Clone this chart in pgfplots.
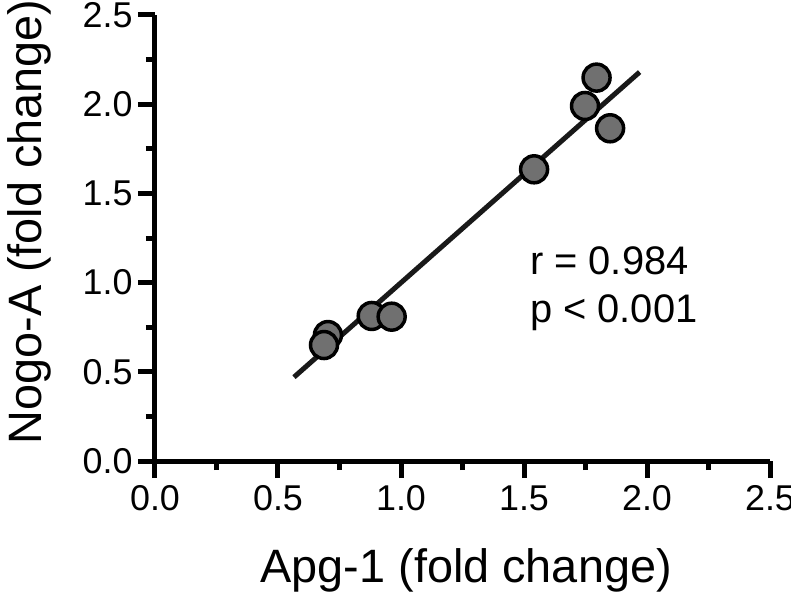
\documentclass[border=0pt]{standalone}
\usepackage{pgfplots}
\pgfplotsset{compat=1.18}
\usepackage{fontspec}
\setmainfont{Liberation Sans}
\definecolor{markgray}{RGB}{112,112,112}
\definecolor{linecol}{RGB}{25,25,25}
\begin{document}
\begin{tikzpicture}
\useasboundingbox (-155bp,-134bp) rectangle (636bp,461bp);
\begin{axis}[
  scale only axis,
  width=615bp, height=446bp,
  xmin=0, xmax=2.5, ymin=0, ymax=2.5,
  axis x line*=bottom, axis y line*=left,
  x axis line style={-}, y axis line style={-},
  axis line style={line width=5bp, black},
  xtick={0,0.5,1,1.5,2,2.5}, ytick={0,0.5,1,1.5,2,2.5},
  minor x tick num=1, minor y tick num=1,
  tick align=outside,
  major tick length=17bp, minor tick length=9bp,
  every tick/.style={line width=5bp, black},
  /pgf/number format/assume math mode=true,
  /pgf/number format/.cd, fixed, fixed zerofill, precision=1,
  /pgfplots/.cd,
  tick label style={font=\fontsize{36}{40}\selectfont},
  xticklabel style={yshift=-4bp},
  yticklabel style={xshift=-2bp},
  xlabel={Apg-1 (fold change)},
  ylabel={Nogo-A (fold change)},
  xlabel style={font=\fontsize{47}{52}\selectfont, at={(axis description cs:0.506,-0.246)}, anchor=center},
  ylabel style={font=\fontsize{47}{52}\selectfont, at={(axis description cs:-0.205,0.536)}, anchor=center},
  clip=false,
]
\addplot[linecol, line width=5bp] coordinates {(0.565,0.47) (1.97,2.18)};
\addplot[only marks, mark=*, mark size=13.5bp,
  mark options={fill=markgray, draw=black, line width=3.5bp}]
  coordinates {
  (0.703,0.706)
  (0.687,0.650)
  (0.881,0.813)
  (0.962,0.809)
  (1.541,1.635)
  (1.748,1.990)
  (1.795,2.149)
  (1.850,1.865)
  };
\node[anchor=base west, font=\fontsize{40}{44}\selectfont, inner sep=0pt] at (axis cs:1.524,1.043) {r = 0.984};
\node[anchor=base west, font=\fontsize{40}{44}\selectfont, inner sep=0pt] at (axis cs:1.524,0.779) {p {<} 0.001};
\end{axis}
\end{tikzpicture}
\end{document}
